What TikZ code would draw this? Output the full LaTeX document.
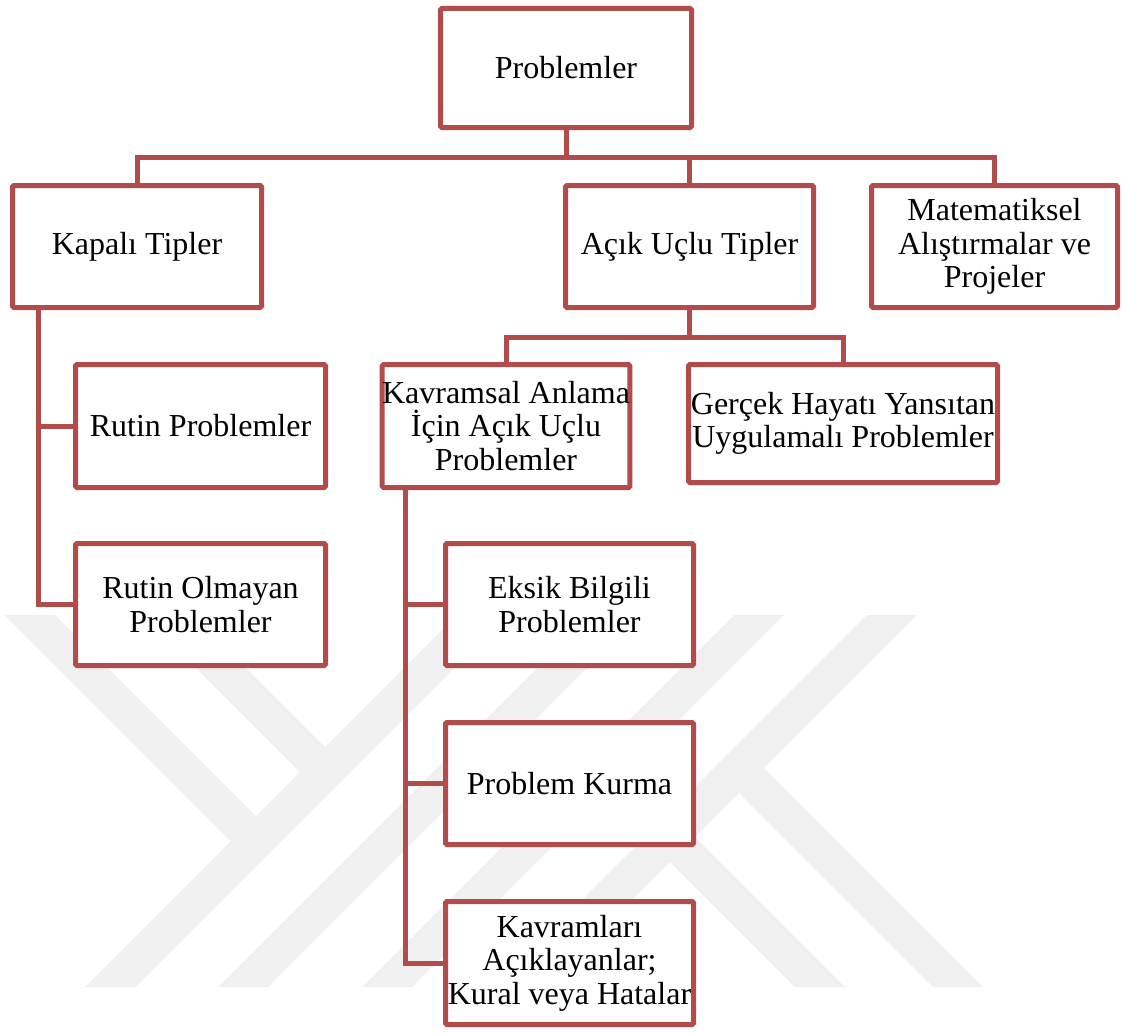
\documentclass[tikz,border=0pt]{standalone}
\usepackage{fontspec}
\setmainfont{Liberation Serif}
\definecolor{boxred}{RGB}{178,76,74}
\definecolor{wmgray}{RGB}{240,240,240}
\pgfdeclarelayer{wm}
\pgfdeclarelayer{bg}
\pgfsetlayers{wm,bg,main}

\begin{document}
\begin{tikzpicture}[x=1pt,y=-1pt,
  bx/.style={draw=boxred, line width=5pt, fill=white, rounded corners=1.5pt,
    align=center, inner sep=0pt, text=black,
    font=\fontsize{32}{33.5}\selectfont,
    minimum width=250pt, minimum height=122pt},
  conn/.style={draw=boxred, line width=5pt, line join=miter}]

\useasboundingbox (0,0) rectangle (1122,1033);

% --- boxes ---
\node[bx, minimum width=251pt, minimum height=119pt] (root) at (566,68) {Problemler};

\node[bx, minimum width=249pt] (kap)  at (137,246.5)   {Kapalı Tipler};
\node[bx, minimum width=248pt] (acik) at (689.5,246.5) {Açık Uçlu Tipler};
\node[bx, minimum width=246pt] (mat)  at (994.5,246.5) {Matematiksel\\Alıştırmalar ve\\Projeler};

\node[bx, minimum width=247pt, minimum height=123pt] (kav) at (506,426)
  {Kavramsal Anlama\\İçin Açık Uçlu\\Problemler};
\node[bx, minimum width=309pt, minimum height=118pt] (ger) at (843,423.5)
  {Gerçek Hayatı Yansıtan\\Uygulamalı Problemler};

\node[bx, minimum height=123pt] (rut)   at (200.5,426)   {Rutin Problemler};
\node[bx] (rutol) at (200.5,604.5) {Rutin Olmayan\\Problemler};

\node[bx, minimum width=248pt] (eks) at (569.5,604.5) {Eksik Bilgili\\Problemler};
\node[bx, minimum width=248pt] (pk)  at (569.5,783.5) {Problem Kurma};
\node[bx, minimum width=248pt, minimum height=123pt] (kvr) at (569.5,963)
  {Kavramları\\Açıklayanlar;\\Kural veya Hatalar};

% --- connectors ---
\coordinate (j1) at (566,157);
\coordinate (j2) at (689.5,337);
\coordinate (kx) at (38,0);
\coordinate (vx) at (405,0);
\begin{pgfonlayer}{bg}
  \draw[conn] (root.south) -- (j1);
  \draw[conn] (kap.north) |- (j1) -| (mat.north);
  \draw[conn] (acik.north) -- (acik.north |- j1);

  \draw[conn] (acik.south) -- (j2);
  \draw[conn] (kav.north) |- (j2) -| (ger.north);

  \draw[conn] (kap.south -| kx) |- (rutol.west);
  \draw[conn] (kx |- rut.west) -- (rut.west);

  \draw[conn] (kav.south -| vx) |- (kvr.west);
  \draw[conn] (vx |- eks.west) -- (eks.west);
  \draw[conn] (vx |- pk.west) -- (pk.west);
\end{pgfonlayer}

% --- background emblem ---
\begin{pgfonlayer}{wm}
  \fill[white] (0,0) rectangle (1122,1033);
  \begin{scope}[shift={(494,801)}]
    \fill[wmgray] (-489,-186) -- (-439,-186) -- (-238,15) -- (-263,40) -- cycle;
    \fill[wmgray] (-351,-186) -- (-301,-186) -- (-169,-54) -- (-194,-29) -- cycle;
    \fill[wmgray] (-37,-186) -- (13,-186) -- (-359,186) -- (-409,186) -- cycle;
    \fill[wmgray] (96,-186) -- (146,-186) -- (-226,186) -- (-276,186) -- cycle;
    \fill[wmgray] (240,-186) -- (290,-186) -- (-82,186) -- (-132,186) -- cycle;
    \fill[wmgray] (373,-186) -- (423,-186) -- (51,186) -- (1,186) -- cycle;
    \fill[wmgray] (270,-33) -- (245,-8) -- (439,186) -- (489,186) -- cycle;
    \fill[wmgray] (201,36) -- (176,61) -- (301,186) -- (351,186) -- cycle;
  \end{scope}
\end{pgfonlayer}
\end{tikzpicture}
\end{document}
